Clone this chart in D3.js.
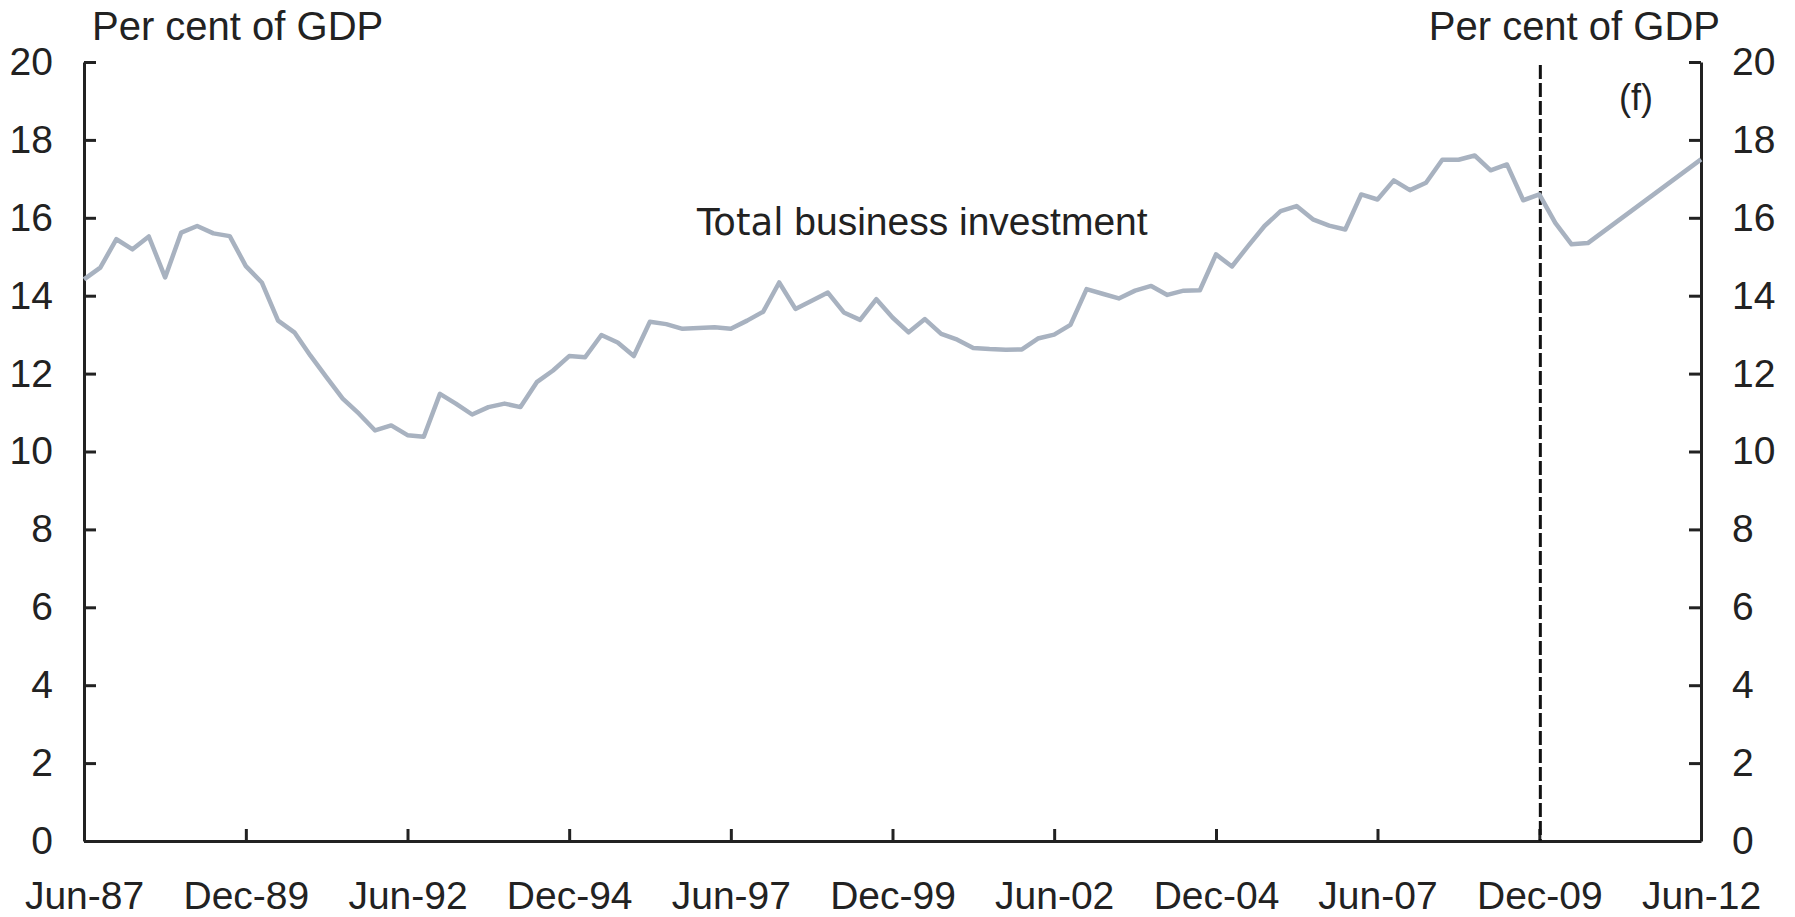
<!DOCTYPE html>
<html>
<head>
<meta charset="utf-8">
<script src="https://cdn.jsdelivr.net/npm/d3@7"></script>
<style>
  body { margin: 0; background: #fff; }
  svg text { font-family: "Liberation Sans", Arial, sans-serif; fill: #222; }
</style>
</head>
<body>
<svg width="1795" height="917"></svg>
<script>
var width = 1795;
var height = 917;

// quarterly business investment, per cent of GDP, from Jun-87
var firstQuarter = "Jun-87";
var investment = [14.42, 14.72, 15.45, 15.19, 15.52, 14.47, 15.62, 15.79, 15.6, 15.53,
	14.76, 14.34, 13.36, 13.06, 12.46, 11.91, 11.36, 10.97, 10.54, 10.67,
	10.42, 10.38, 11.48, 11.23, 10.95, 11.14, 11.23, 11.14, 11.78, 12.08,
	12.45, 12.42, 12.99, 12.8, 12.45, 13.33, 13.27, 13.15, 13.17, 13.19,
	13.15, 13.36, 13.59, 14.34, 13.66, 13.87, 14.08, 13.57, 13.38, 13.91,
	13.44, 13.06, 13.4, 13.02, 12.87, 12.66, 12.63, 12.61, 12.62, 12.9,
	13.0, 13.25, 14.17, 14.05, 13.93, 14.13, 14.25, 14.02, 14.13, 14.14,
	15.06, 14.75, 15.28, 15.79, 16.17, 16.3, 15.96, 15.8, 15.7, 16.6,
	16.47, 16.96, 16.71, 16.9, 17.49, 17.49, 17.6, 17.22, 17.37, 16.45,
	16.6, 15.87, 15.32, 15.35];

// forecast end point
var forecastQuarter = "Jun-12";
var forecastValue = 17.5;

var forecastStart = "Dec-09";

var xTickLabels = ["Jun-87", "Dec-89", "Jun-92", "Dec-94", "Jun-97", "Dec-99",
	"Jun-02", "Dec-04", "Jun-07", "Dec-09", "Jun-12"];
var yTicks = [0, 2, 4, 6, 8, 10, 12, 14, 16, 18, 20];

var parseQ = d3.timeParse("%b-%y");

var start = parseQ(firstQuarter);
var series = investment.map(function(v, i) {
	return {date: d3.timeMonth.offset(start, 3 * i), value: v};
});
series.push({date: parseQ(forecastQuarter), value: forecastValue});

var svg = d3.select("svg");

var x = d3.scaleTime()
	.domain([parseQ("Jun-87"), parseQ("Jun-12")])
	.range([84, 1701]);

var y = d3.scaleLinear()
	.domain([0, 20])
	.range([841, 62]);

var fontSize = "39px";

// left axis
var leftAxis = svg.append("g")
	.attr("transform", "translate(" + x.range()[0] + ",0)")
	.call(d3.axisLeft(y).tickValues(yTicks).tickSizeInner(-12).tickSizeOuter(0).tickPadding(31));

// right axis
var rightAxis = svg.append("g")
	.attr("transform", "translate(" + x.range()[1] + ",0)")
	.call(d3.axisRight(y).tickValues(yTicks).tickSizeInner(-12).tickSizeOuter(0).tickPadding(31));

// bottom axis
var bottomAxis = svg.append("g")
	.attr("transform", "translate(0," + y(0) + ")")
	.call(d3.axisBottom(x)
		.tickValues(xTickLabels.map(parseQ))
		.tickFormat(d3.timeFormat("%b-%y"))
		.tickSizeInner(-12).tickSizeOuter(0).tickPadding(40));

[leftAxis, rightAxis, bottomAxis].forEach(function(a) {
	a.attr("font-family", null);
	a.selectAll(".domain").attr("stroke", "#222").attr("stroke-width", 3);
	a.selectAll(".tick line").attr("stroke", "#222").attr("stroke-width", 3);
	a.selectAll(".tick text")
		.style("font-size", fontSize)
		.attr("fill", "#222");
});

// forecast divider
svg.append("line")
	.attr("x1", x(parseQ(forecastStart)) + 1)
	.attr("x2", x(parseQ(forecastStart)) + 1)
	.attr("y1", 65)
	.attr("y2", y(0))
	.attr("stroke", "#111")
	.attr("stroke-width", 3)
	.attr("stroke-dasharray", "14,4");

// the series
var line = d3.line()
	.x(function(d) { return x(d.date); })
	.y(function(d) { return y(d.value); });

svg.append("path")
	.datum(series)
	.attr("d", line)
	.attr("fill", "none")
	.attr("stroke", "#a8b2c0")
	.attr("stroke-width", 4.5)
	.attr("stroke-linejoin", "round");

// labels
svg.append("text")
	.attr("x", 92)
	.attr("y", 40)
	.style("font-size", "40px")
	.text("Per cent of GDP");

svg.append("text")
	.attr("x", 1720)
	.attr("y", 40)
	.attr("text-anchor", "end")
	.style("font-size", "40px")
	.text("Per cent of GDP");

svg.append("text")
	.attr("x", 1636)
	.attr("y", 110)
	.attr("text-anchor", "middle")
	.style("font-size", "36px")
	.text("(f)");

var seriesLabel = svg.append("text")
	.attr("x", 697)
	.attr("y", 235)
	.style("font-size", "39px");
seriesLabel.append("tspan")
	.style("font-family", "'DejaVu Sans', sans-serif")
	.style("font-size", "37px")
	.text("Total");
seriesLabel.append("tspan")
	.text(" business investment");
</script>
</body>
</html>
